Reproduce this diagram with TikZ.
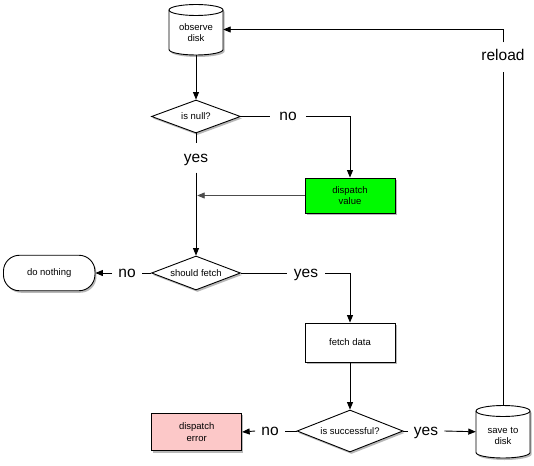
\documentclass[tikz,border=0pt]{standalone}
\usepackage{fontspec}
\setmainfont{Liberation Sans}
\usetikzlibrary{shapes.geometric,arrows.meta,shadows}
\definecolor{dvgreen}{RGB}{0,250,0}
\definecolor{errpink}{RGB}{252,200,200}
\tikzset{
  ln/.style={line width=0.9pt},
  arr/.style={ln,-{Triangle[length=7.5pt,width=6pt]}},
  shad/.style={drop shadow={shadow xshift=1.5pt,shadow yshift=-2pt,fill=black,opacity=0.28}},
  txt/.style={font=\fontsize{9.5}{11.5}\selectfont,align=center},
  boxnode/.style={txt,draw,ln,fill=white,shad,inner sep=0pt},
  dia/.style={txt,draw,ln,diamond,fill=white,shad,inner sep=0pt},
  lab/.style={font=\fontsize{15.5}{18}\selectfont,text height=11pt,text depth=3pt,inner xsep=6pt,inner ysep=7.5pt},
  shapeonly/.style={inner sep=0pt,minimum width=54pt},
}
\begin{document}
\begin{tikzpicture}[x=1pt,y=-1pt]
\useasboundingbox (0,0) rectangle (534,465);

% observe disk cylinder
\path[draw,ln,fill=white,shad] (169,10) -- (169,49.5)
  arc[start angle=180,end angle=360,x radius=27pt,y radius=5.5pt]
  -- (223,10) arc[start angle=0,end angle=180,x radius=27pt,y radius=5.5pt] -- cycle;
\draw[ln] (169,10) arc[start angle=180,end angle=360,x radius=27pt,y radius=5.5pt];
\node[shapeonly,minimum height=51pt] (obs) at (196,29.5) {};
\node[txt] (obstxt) at (196,32.5) {observe\\disk};

% save to disk cylinder
\path[draw,ln,fill=white,shad] (476,411) -- (476,452.5)
  arc[start angle=180,end angle=360,x radius=27pt,y radius=5.5pt]
  -- (530,411) arc[start angle=0,end angle=180,x radius=27pt,y radius=5.5pt] -- cycle;
\draw[ln] (476,411) arc[start angle=180,end angle=360,x radius=27pt,y radius=5.5pt];
\node[shapeonly,minimum height=52.5pt] (save) at (503,431.75) {};
\node[txt] (savetxt) at (503,436) {save to\\disk};

% decisions
\node[dia,aspect=2.7,minimum width=89pt,minimum height=33pt] (isnull) at (196,116.5) {is null?};
\node[dia,aspect=2.6,minimum width=89pt,minimum height=34pt] (sf) at (196,273) {should fetch};
\node[dia,aspect=2.5,minimum width=106pt,minimum height=42pt] (succ) at (350,431) {is successful?};

% boxes
\node[boxnode,fill=dvgreen,minimum width=90pt,minimum height=35pt] (dv) at (350,195.5) {dispatch\\value};
\node[boxnode,minimum width=90pt,minimum height=39pt] (fetch) at (350,342.5) {fetch data};
\node[boxnode,fill=errpink,minimum width=90pt,minimum height=37.5pt] (err) at (196.7,432) {dispatch\\error};
\node[boxnode,rounded corners=16pt,minimum width=91.5pt,minimum height=35.5pt] (nothing) at (49.2,273) {do nothing};

% labels
\node[lab,inner xsep=9pt] (nonull) at (288,116.5) {no};
\node[lab] (yesnull) at (196,158) {yes};
\node[lab] (nosf) at (127,273) {no};
\node[lab,inner xsep=7pt] (yessf) at (306,273) {yes};
\node[lab] (nosucc) at (270,431) {no};
\node[lab] (yessucc) at (426,431) {yes};
\node[lab] (reload) at (503,57) {reload};

% connectors
\draw[arr] (obs.south) -- (isnull.north);
\draw[ln] (isnull.east) -- (nonull.west);
\draw[arr] (nonull.east) -| (dv.north);
\draw[ln] (isnull.south) -- (yesnull.north);
\draw[arr] (yesnull.south) -- (sf.north);
\coordinate (merge) at (196,195.5);
\draw[ln,black!70,-{Triangle[length=7.5pt,width=6pt]},shorten >=1.2pt] (dv.west) -- (merge);
\draw[ln] (sf.west) -- (nosf.east);
\draw[arr] (nosf.west) -- (nothing.east);
\draw[ln] (sf.east) -- (yessf.west);
\draw[arr] (yessf.east) -| (fetch.north);
\draw[arr] (fetch.south) -- (succ.north);
\draw[ln] (succ.west) -- (nosucc.east);
\draw[arr] (nosucc.west) -- (err.east);
\draw[ln] (succ.east) -- (yessucc.west);
\draw[arr] (yessucc.east) -- (save.west);
\draw[ln] (save.north) -- (reload.south);
\draw[arr] (reload.north) |- (obs.east);
\end{tikzpicture}
\end{document}
